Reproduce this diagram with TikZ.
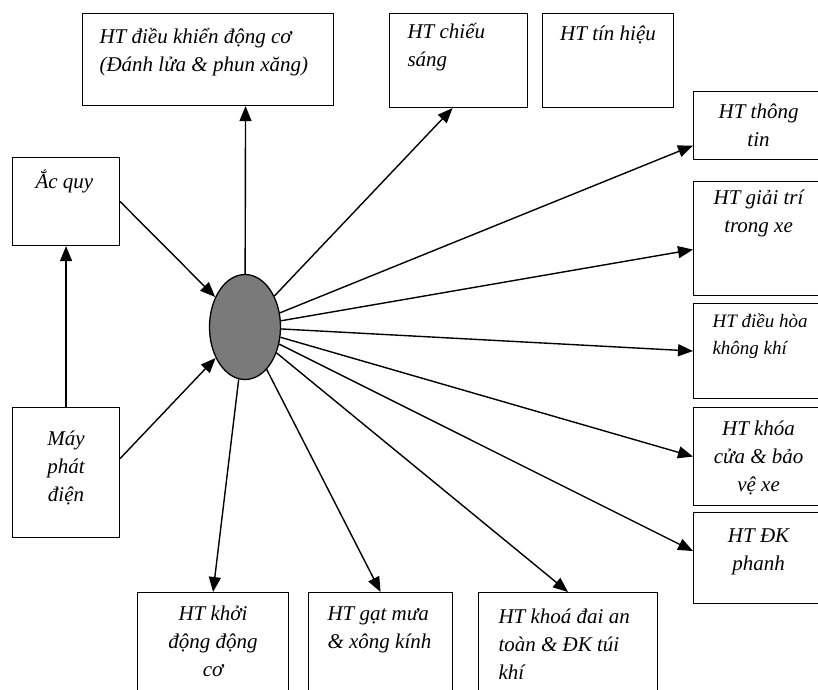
\documentclass[tikz,border=0pt]{standalone}
\usepackage{fontspec}
\setmainfont{Liberation Serif}
\usetikzlibrary{arrows.meta,shapes.geometric}

% 方框: [上边距]{名}{左上角}{宽}{高}{文字}
\newcommand{\htbox}[6][8pt]{%
  \node[htnode] (#2) at #3 {\parbox[t][#5][t]{#4}{\vspace*{#1}#6}};%
}

\begin{document}
\begin{tikzpicture}[x=1pt, y=-1pt, >={Triangle[length=15pt,width=12pt]},
    htnode/.style={draw, line width=1.1pt, inner sep=0pt, anchor=north west,
      font=\fontsize{21}{28}\selectfont\itshape},
    link/.style={->, line width=1.4pt}]
  \definecolor{hubgray}{RGB}{122,122,122}
  \useasboundingbox (0,0) rectangle (818,689);
  \clip (0,0) rectangle (818,689);

  % 中心
  \node[ellipse, draw, line width=1.3pt, fill=hubgray, minimum width=71pt,
    minimum height=105pt, inner sep=0pt] (hub) at (245,327) {};

  % 上面
  \htbox[10pt]{ctrl}{(82,13)}{251pt}{92pt}{\leftskip=17pt\strut HT điều khiển động cơ\\(Đánh lửa \& phun xăng)}
  \htbox[5pt]{light}{(389,13)}{138pt}{94pt}{\leftskip=18pt\strut HT chiếu\\sáng}
  \htbox[7pt]{signal}{(542,13)}{131pt}{94pt}{\centering\strut HT tín hiệu}

  % 左边
  \htbox[11pt]{bat}{(12,157)}{107pt}{88pt}{\leftskip=23pt\strut Ắc quy}
  \htbox[18pt]{gen}{(12,407)}{107pt}{130pt}{\centering\strut Máy\\phát\\điện}

  % 右边
  \htbox[7pt]{info}{(693,91)}{130pt}{68pt}{\centering\strut HT thông\\tin}
  \htbox[3pt]{ent}{(693,181)}{130pt}{114pt}{\centering\strut HT giải trí\\trong xe}
  \htbox[5pt]{ac}{(693,303)}{130pt}{95pt}{\fontsize{19}{27}\selectfont\leftskip=19pt\strut HT điều hòa\\không khí}
  \htbox[8pt]{lock}{(693,407)}{130pt}{98pt}{\centering\strut HT khóa\\cửa \& bảo\\vệ xe}
  \htbox[10pt]{brake}{(693,512)}{130pt}{91pt}{\centering\strut HT ĐK\\phanh}

  % 下面
  \htbox[8pt]{start}{(137,592)}{151pt}{120pt}{\centering\strut HT khởi\\động động\\cơ}
  \htbox[8pt]{wiper}{(308,592)}{144pt}{120pt}{\leftskip=19pt\strut HT gạt mưa\\\& xông kính}
  \htbox[11pt]{belt}{(478,592)}{179pt}{120pt}{\leftskip=20pt\strut HT khoá đai an\\toàn \& ĐK túi\\khí}

  % 箭头
  \draw[link] (gen) -- (bat);
  \draw[link] (bat.east) -- (hub);
  \draw[link] ([yshift=14pt]gen.east) -- (hub);
  \draw[link] (hub) -- ([xshift=37.5pt]ctrl.south);
  \draw[link] (hub) -- ([xshift=-6pt]light.south);
  \draw[link] (hub) -- ([yshift=-20pt]info.west);
  \draw[link] (hub) -- ([yshift=-11pt]ent.west);
  \draw[link] (hub) -- (ac.west);
  \draw[link] (hub) -- (lock.west);
  \draw[link] (hub) -- ([yshift=7pt]brake.west);
  \draw[link] (hub) -- (start.north);
  \draw[link] (hub) -- (wiper.north);
  \draw[link] (hub) -- (belt.north);
\end{tikzpicture}
\end{document}
